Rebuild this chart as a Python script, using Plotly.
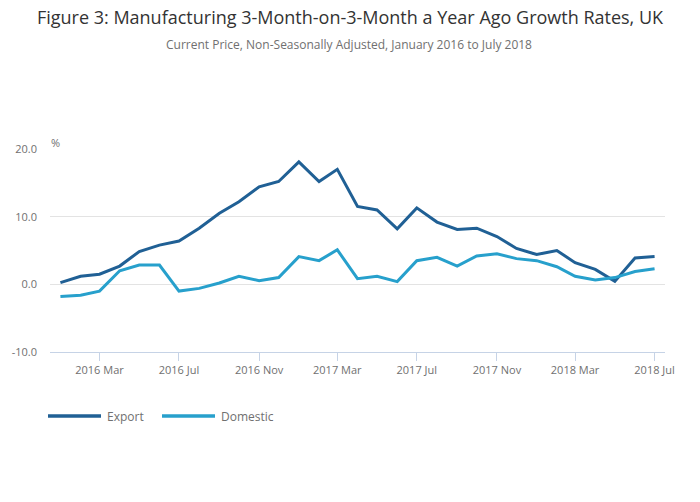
import plotly.graph_objects as go
import pandas as pd

months = pd.date_range("2016-01-01", "2018-07-01", freq="MS")
export = [0.25, 1.2, 1.5, 2.7, 4.85, 5.8, 6.4, 8.3, 10.5, 12.2, 14.4, 15.2,
          18.1, 15.2, 17.0, 11.5, 11.0, 8.2, 11.3, 9.2, 8.1, 8.3, 7.06, 5.3,
          4.4, 5.0, 3.2, 2.2, 0.44, 3.9, 4.1]
domestic = [-1.8, -1.6, -1.0, 2.0, 2.85, 2.85, -1.0, -0.6, 0.2, 1.2, 0.54, 1.0,
            4.1, 3.5, 5.1, 0.83, 1.2, 0.4, 3.5, 4.0, 2.7, 4.2, 4.5, 3.8,
            3.5, 2.6, 1.2, 0.64, 1.0, 1.9, 2.3]
tick_dates = ["2016-03-01", "2016-07-01", "2016-11-01", "2017-03-01",
              "2017-07-01", "2017-11-01", "2018-03-01", "2018-07-01"]
tick_labels = ["2016 Mar", "2016 Jul", "2016 Nov", "2017 Mar",
               "2017 Jul", "2017 Nov", "2018 Mar", "2018 Jul"]
y_ticks = [-10, 0, 10, 20]
y_labels = ["-10.0", "0.0", "10.0", "20.0"]
series_names = ["Export", "Domestic"]
series_colors = ["#206095", "#27a0cc"]

W, H = 700, 502
ML, MR, MT, MB = 50, 35, 149, 150
plot_h = H - MT - MB
plot_w = W - ML - MR


def px_x(p):
    return (p - ML) / plot_w


def px_y(p):
    return (H - MB - p) / plot_h


fig = go.Figure()
for name, vals, col in zip(series_names, [export, domestic], series_colors):
    fig.add_trace(go.Scatter(x=months, y=vals, name=name, mode="lines",
                             line=dict(color=col, width=3), showlegend=False))

# custom legend (long line swatches)
shapes = []
annotations = []
legend_x = [48, 162]
for lx, name, col in zip(legend_x, series_names, series_colors):
    shapes.append(dict(type="line", xref="paper", yref="paper",
                       x0=px_x(lx), x1=px_x(lx + 53), y0=px_y(416), y1=px_y(416),
                       line=dict(color=col, width=3.5)))
    annotations.append(dict(text=name, xref="paper", yref="paper",
                            x=px_x(lx + 57), y=px_y(416.5), xanchor="left", yanchor="middle",
                            showarrow=False, font=dict(size=12, color="#707070")))

annotations += [
    dict(text="Current Price, Non-Seasonally Adjusted, January 2016 to July 2018",
         xref="paper", yref="paper", x=px_x(349), y=px_y(44),
         xanchor="center", yanchor="middle",
         showarrow=False, font=dict(size=12, color="#707070")),
    dict(text="%", xref="paper", yref="paper", x=px_x(49), y=px_y(142),
         xanchor="left", yanchor="middle",
         showarrow=False, font=dict(size=11, color="#707070")),
]

fig.update_layout(
    width=W, height=H,
    font=dict(family="Open Sans", color="#707070", size=11),
    paper_bgcolor="white", plot_bgcolor="white",
    margin=dict(l=ML, r=MR, t=MT, b=MB, autoexpand=False),
    title=dict(text="Figure 3: Manufacturing 3-Month-on-3-Month a Year Ago Growth Rates, UK",
               x=0.5, xanchor="center", y=1 - 18 / H, yanchor="middle",
               font=dict(size=18, color="#333333", family="Open Sans")),
    showlegend=False,
    xaxis=dict(range=["2015-12-16", "2018-07-17"], tickvals=tick_dates, ticktext=tick_labels,
               showgrid=False, showline=True, linecolor="#c6d3e6", linewidth=1,
               ticks="outside", tickcolor="#c6d3e6", ticklen=8,
               tickfont=dict(size=11, color="#707070"), zeroline=False),
    yaxis=dict(range=[-10, 20], tickvals=y_ticks, ticktext=y_labels,
               showgrid=True, gridcolor="#e3e3e3", gridwidth=1, zeroline=False,
               showline=False, ticks="", tickfont=dict(size=11, color="#707070"),
               ticklabelstandoff=12),
    shapes=shapes,
    annotations=annotations,
)
fig.write_html("out.html", config={"displayModeBar": False},
               post_script="document.body.style.margin='0px';")
